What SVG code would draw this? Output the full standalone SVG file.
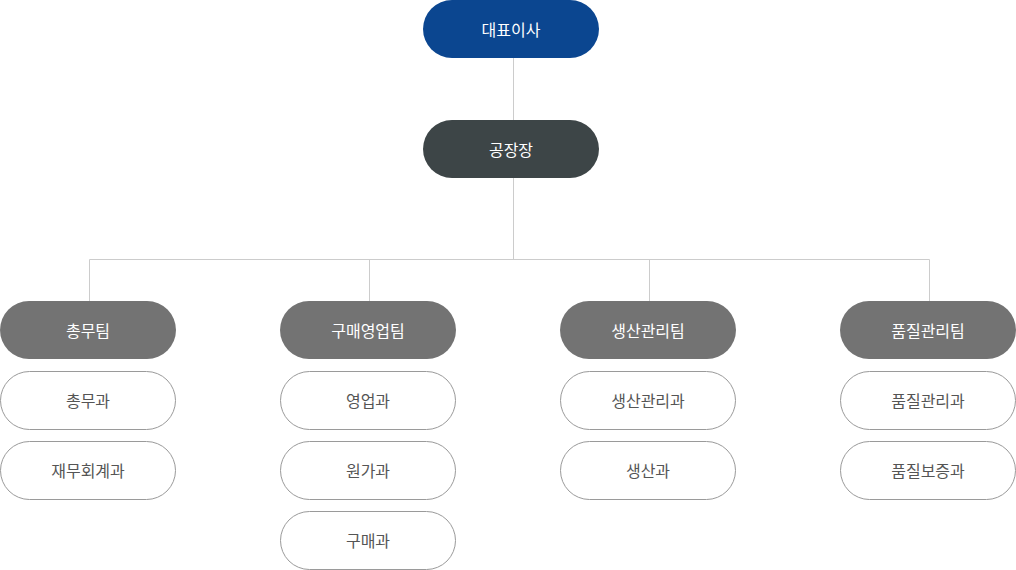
<svg xmlns="http://www.w3.org/2000/svg" width="1016" height="570" viewBox="0 0 1016 570">
<style>
text{font-family:"Noto Sans CJK KR","Noto Sans",sans-serif;font-size:16px;text-anchor:middle;dominant-baseline:central}
.top rect{fill:#0b4690}
.mgr rect{fill:#3d4547}
.team rect{fill:#737373}
.top text,.mgr text,.team text{fill:#ffffff}
.sec rect{fill:#ffffff;stroke:#9a9a9a;stroke-width:1}
.sec text{fill:#555555}
.conn{stroke:#cccccc;stroke-width:1;fill:none}
</style>
<g id="connectors">
<path class="conn" d="M513.5 58V120M513.5 178V259.5M89.5 259.5H929.5M89.5 259.5V301M369.5 259.5V301M649.5 259.5V301M929.5 259.5V301"/>
</g>
<g id="ceo" class="top"><rect x="423" y="0" width="176" height="58" rx="29"/><text x="511" y="29">대표이사</text></g>
<g id="plant" class="mgr"><rect x="423" y="120" width="176" height="58" rx="29"/><text x="511" y="149">공장장</text></g>

<g id="team1" class="team"><rect x="0" y="301" width="176" height="58" rx="29"/><text x="88" y="330">총무팀</text></g>
<g id="t1s1" class="sec"><rect x="0.5" y="371.5" width="175" height="58" rx="29"/><text x="88" y="400">총무과</text></g>
<g id="t1s2" class="sec"><rect x="0.5" y="441.5" width="175" height="58" rx="29"/><text x="88" y="470">재무회계과</text></g>

<g id="team2" class="team"><rect x="280" y="301" width="176" height="58" rx="29"/><text x="368" y="330">구매영업팀</text></g>
<g id="t2s1" class="sec"><rect x="280.5" y="371.5" width="175" height="58" rx="29"/><text x="368" y="400">영업과</text></g>
<g id="t2s2" class="sec"><rect x="280.5" y="441.5" width="175" height="58" rx="29"/><text x="368" y="470">원가과</text></g>
<g id="t2s3" class="sec"><rect x="280.5" y="511.5" width="175" height="58" rx="29"/><text x="368" y="540">구매과</text></g>

<g id="team3" class="team"><rect x="560" y="301" width="176" height="58" rx="29"/><text x="648" y="330">생산관리팀</text></g>
<g id="t3s1" class="sec"><rect x="560.5" y="371.5" width="175" height="58" rx="29"/><text x="648" y="400">생산관리과</text></g>
<g id="t3s2" class="sec"><rect x="560.5" y="441.5" width="175" height="58" rx="29"/><text x="648" y="470">생산과</text></g>

<g id="team4" class="team"><rect x="840" y="301" width="176" height="58" rx="29"/><text x="928" y="330">품질관리팀</text></g>
<g id="t4s1" class="sec"><rect x="840.5" y="371.5" width="175" height="58" rx="29"/><text x="928" y="400">품질관리과</text></g>
<g id="t4s2" class="sec"><rect x="840.5" y="441.5" width="175" height="58" rx="29"/><text x="928" y="470">품질보증과</text></g>
</svg>
